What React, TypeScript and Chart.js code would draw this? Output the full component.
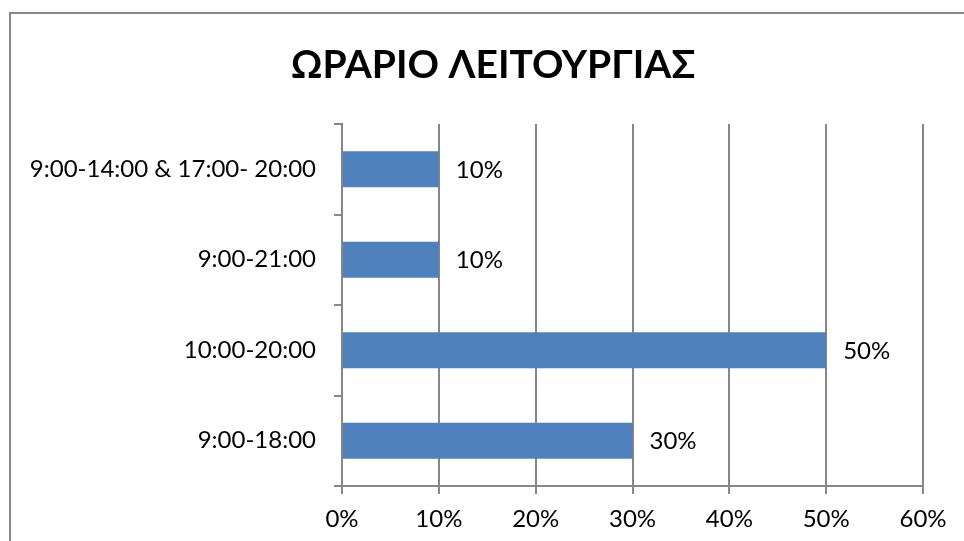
import React, { useEffect, useRef } from "react";
import { Chart, registerables } from "chart.js";

Chart.register(...registerables);

const TITLE = "ΩΡΑΡΙΟ ΛΕΙΤΟΥΡΓΙΑΣ";
const categories = ["9:00-14:00 & 17:00- 20:00", "9:00-21:00", "10:00-20:00", "9:00-18:00"];
const values = [10, 10, 50, 30];
const xTicksMin = 0;
const xTicksMax = 60;
const xTicksStep = 10;

const GRID = "#878787";
const BAR = "#4F81BD";
const FONT = "Lato, 'Open Sans', sans-serif";

const framePlugin = {
  id: "frame",
  beforeDraw(chart: any) {
    const ctx = chart.ctx;
    ctx.save();
    ctx.fillStyle = "#ffffff";
    ctx.fillRect(0, 0, chart.width, chart.height);
    ctx.strokeStyle = GRID;
    ctx.lineWidth = 2;
    ctx.strokeRect(10, 13, chart.width + 20, chart.height + 20);
    ctx.restore();
  },
  afterDraw(chart: any) {
    const ctx = chart.ctx;
    ctx.save();
    ctx.font = `bold 39px ${FONT}`;
    ctx.fillStyle = "#000000";
    ctx.textAlign = "center";
    ctx.textBaseline = "alphabetic";
    ctx.fillText(TITLE, chart.width / 2 + 11, 78);
    ctx.restore();
  },
};

const labelPlugin = {
  id: "barLabels",
  afterDatasetsDraw(chart: any) {
    const ctx = chart.ctx;
    const meta = chart.getDatasetMeta(0);
    ctx.save();
    ctx.font = `24px ${FONT}`;
    ctx.fillStyle = "#000000";
    ctx.textAlign = "left";
    ctx.textBaseline = "middle";
    meta.data.forEach((el: any, i: number) => {
      ctx.fillText(values[i] + "%", el.x + 17, el.y + 1);
    });
    ctx.restore();
  },
};

export default function App() {
  const ref = useRef<HTMLCanvasElement | null>(null);
  useEffect(() => {
    if (!ref.current) return;
    const chart = new Chart(ref.current, {
      type: "bar",
      data: {
        labels: categories,
        datasets: [
          {
            data: values,
            backgroundColor: BAR,
            borderWidth: 0,
            barPercentage: 0.4,
            categoryPercentage: 1,
          },
        ],
      },
      options: {
        indexAxis: "y",
        animation: false,
        responsive: false,
        maintainAspectRatio: false,
        layout: { padding: { left: 0, right: 41, top: 124, bottom: 0 } },
        plugins: {
          legend: { display: false },
          tooltip: { enabled: false },
          title: { display: false },
        },
        scales: {
          x: {
            min: xTicksMin,
            max: xTicksMax,
            afterFit: (s: any) => {
              s.height = 55;
            },
            ticks: {
              stepSize: xTicksStep,
              callback: (v: any) => v + "%",
              color: "#000000",
              font: { family: FONT, size: 24 },
              padding: 11,
              maxRotation: 0,
            },
            grid: { color: GRID, lineWidth: 2, tickLength: 8, drawTicks: true },
            border: { display: true, color: GRID, width: 2 },
          },
          y: {
            afterFit: (s: any) => {
              s.width = 342;
            },
            ticks: {
              color: "#000000",
              font: { family: FONT, size: 24 },
              padding: 18,
            },
            grid: {
              display: true,
              drawOnChartArea: false,
              drawTicks: true,
              tickLength: 8,
              color: GRID,
              lineWidth: 2,
              offset: true,
            },
            border: { display: true, color: GRID, width: 2 },
          },
        },
      },
      plugins: [framePlugin, labelPlugin],
    });
    return () => chart.destroy();
  }, []);
  return (
    <div style={{ position: "fixed", left: 0, top: 0, width: 964, height: 541, background: "#fff", overflow: "hidden" }}>
      <canvas ref={ref} width={964} height={541} style={{ display: "block", width: 964, height: 541 }} />
    </div>
  );
}
